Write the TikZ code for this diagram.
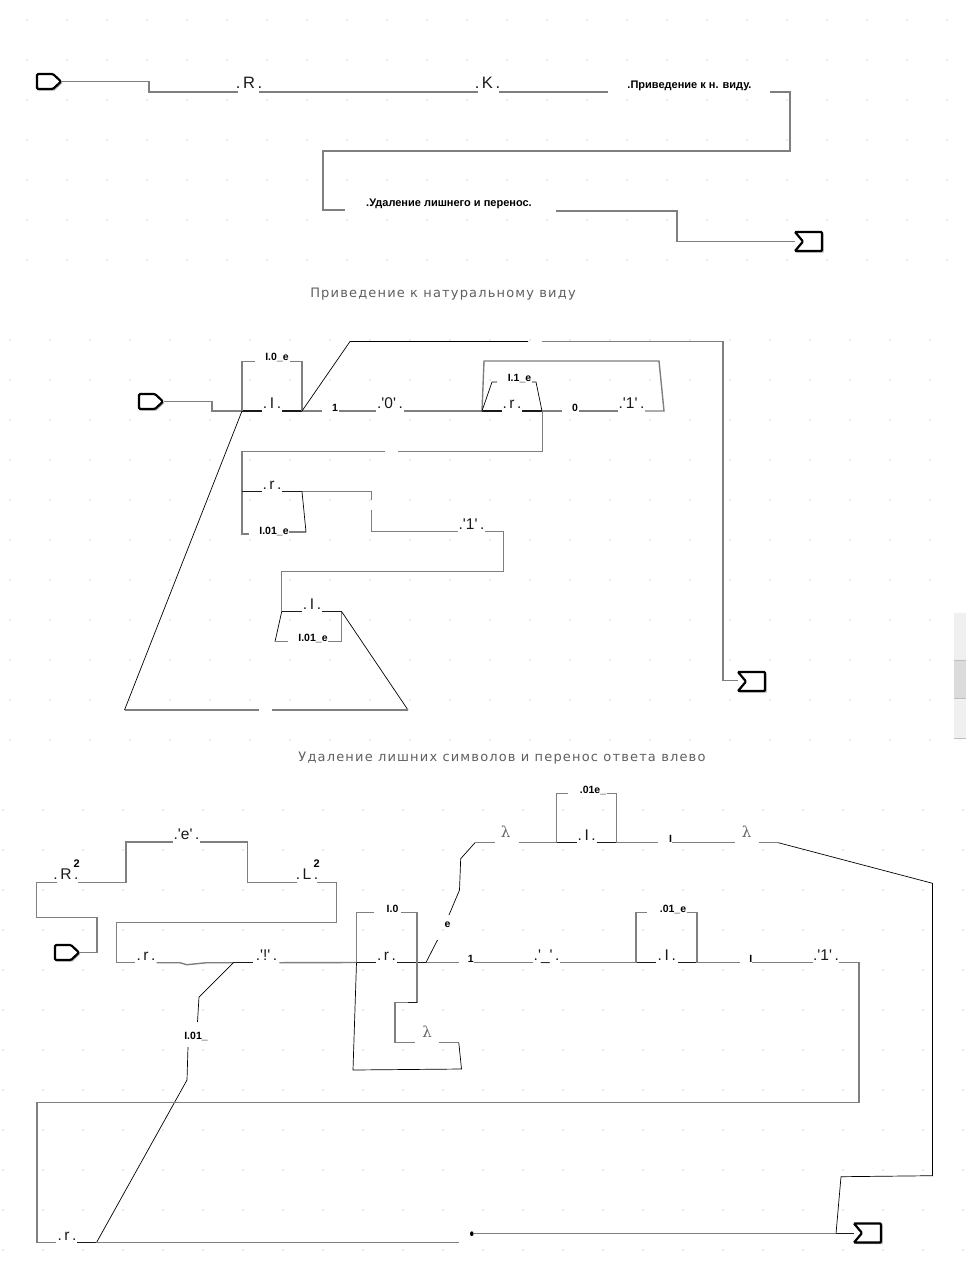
\documentclass[tikz,border=0pt]{standalone}
\usepackage{fontspec}
\setmainfont{Liberation Sans}
\newfontfamily\titlefont[LetterSpace=9]{DejaVu Sans}
\newfontfamily\lamfont{DejaVu Serif}
\definecolor{wirec}{HTML}{7F7F7F}
\definecolor{darkc}{HTML}{1A1A1A}
\definecolor{dotc}{HTML}{A8A8A8}
\definecolor{titlec}{HTML}{606060}
\newcommand{\q}{\textquotesingle}
\newcommand{\dd}[1]{.\hspace{2.6pt}#1\hspace{2.6pt}.}
\tikzset{
 wire/.style={draw=wirec, line width=1.4},
 dk/.style={draw=darkc, line width=1.5},
 thinl/.style={draw=black, line width=0.7},
 big/.style={font=\fontsize{15.5}{16}\selectfont, text=darkc, inner sep=0, anchor=base},
 bigt/.style={font=\fontsize{16.5}{17}\selectfont, text=darkc, inner sep=0, anchor=base},
 sm/.style={font=\bfseries\fontsize{10.5}{11}\selectfont, inner sep=0, anchor=base},
 smt/.style={font=\bfseries\fontsize{11}{11}\selectfont, inner sep=0, anchor=base},
 sup/.style={font=\bfseries\fontsize{11}{10}\selectfont, inner sep=0, anchor=base},
 lam/.style={font=\lamfont\fontsize{15}{15}\selectfont, text=black!60, inner sep=0, anchor=base},
 ttl/.style={font=\titlefont\fontsize{13}{13}\selectfont, text=titlec, inner sep=0, anchor=base},
 startsym/.pic={
   \fill[black!30] (1.5,-6) -- (17.5,-6) -- (25.5,1.5) -- (17.5,9) -- (1.5,9) -- cycle;
   \draw[line width=2.2, fill=white, rounded corners=1.2] (0,-7.5) -- (16,-7.5) -- (24,0) -- (16,7.5) -- (0,7.5) -- cycle;
 },
 endsym/.pic={
   \fill[black!30] (1.5,-8) -- (28.5,-8) -- (28.5,11) -- (1.5,11) -- (9.5,1.5) -- cycle;
   \draw[line width=2.2, fill=white, rounded corners=1] (0,-9.5) -- (27,-9.5) -- (27,9.5) -- (0,9.5) -- (8,0) -- cycle;
 },
}
\begin{document}
\begin{tikzpicture}[x=1pt,y=-1pt]
\useasboundingbox (0,0) rectangle (966,1277);
\fill[white] (0,0) rectangle (966,1277);
% grid dots
\foreach \gx in {27,67,...,947}{\foreach \gy in {20,60,...,260}{\fill[dotc] (\gx,\gy) circle (0.6);}}
\foreach \gx in {10,50,...,950}{\foreach \gy in {340,380,...,740}{\fill[dotc] (\gx,\gy) circle (0.6);}}
\foreach \gx in {3,43,...,963}{\foreach \gy in {810,850,...,1250}{\fill[dotc] (\gx,\gy) circle (0.6);}}
% scrollbar remnant
\fill[black!6] (954,613) rectangle (966,660);
\fill[black!14] (954,660) rectangle (966,698);
\fill[black!6] (954,698) rectangle (966,738);
\draw[black!25, line width=0.6] (954,660) -- (966,660) (954,698) -- (966,698) (954,738) -- (966,738);

% ================= TOP =================
\pic at (37,81.5) {startsym};
\coordinate (t0) at (61,81.5);
\node[bigt] (tR) at (249,88) {\dd{R}};
\node[bigt] (tK) at (487.5,88) {\dd{K}};
\node[smt] (tP) at (689.5,88) {.Приведение к н. виду.};
\node[smt] (tU) at (449,206) {.Удаление лишнего и перенос.};
\coordinate (tE) at (795,241.5);
\draw[wire] (t0) -- (149,81.5) -- (149,92) -- (238,92);
\draw[wire] (259,92) -- (478,92);
\draw[wire] (499,92) -- (608,92);
\draw[wire] (770,92) -- (790,92) -- (790,151) -- (323,151) -- (323,210) -- (345,210);
\draw[wire] (556,211) -- (677,211) -- (677,241.5) -- (tE);
\pic at (795,241.5) {endsym};

\node[ttl] (title1) at (443,297) {Приведение к натуральному виду};

% ================= MIDDLE =================
\pic at (139,401.5) {startsym};
\draw[wire] (164,401.5) -- (212,401.5) -- (212,411) -- (242,411);
\draw[dk] (242,411) -- (262,411);
\node[big] (mI1) at (272,408) {\dd{I}};
\draw[dk] (282,411) -- (302,411);
\draw[wire] (302,411) -- (322,411);
\node[sm] (m1) at (335,411) {1};
\draw[wire] (339,411) -- (376,411);
\node[big] (m0) at (390,408) {.\q0\q\hspace{2.6pt}.};
\draw[wire] (404,411) -- (482,411);
% loop over I
\draw[wire] (242,411) -- (242,361.5) -- (255,361.5);
\node[sm] (mI0e) at (277,360.5) {I.0\_e};
\draw[wire] (290,361.5) -- (302,361.5) -- (302,411);
% long return
\draw[thinl] (302,411) -- (350,341.5) -- (528,341.5);
\draw[wire] (541.7,341.5) -- (723,341.5) -- (723,680.5) -- (738,680.5);
\pic at (738,681.5) {endsym};
% r block
\draw[wire] (482,411) -- (484,361) -- (659,361) -- (664,411) -- (645,411);
\draw[thinl] (482,411) -- (492,382) -- (497,382);
\node[sm] (mI1e) at (519.5,381) {I.1\_e};
\draw[thinl] (532,382) -- (536,382) -- (542,411);
\draw[dk] (482,411) -- (502,411);
\node[big] (mr1) at (512,408.5) {\dd{r}};
\draw[dk] (522,411) -- (542,411);
\draw[wire] (542,411) -- (562,411);
\node[sm] (mzero) at (575,411) {0};
\draw[wire] (579,411) -- (618,411);
\node[big] (m1a) at (631.5,408.5) {.\q1\q\hspace{2.6pt}.};
% down to second r
\draw[wire] (542.5,411) -- (542.5,451.5) -- (398,451.5);
\draw[wire] (385,451.5) -- (242,451.5) -- (242,491.5);
\draw[dk] (242,491.5) -- (262,491.5);
\node[big] (mr2) at (272,489) {\dd{r}};
\draw[dk] (282,491.5) -- (302,491.5);
\draw[wire] (302,491.5) -- (371.5,491.5) -- (371.5,500);
\draw[wire] (371.5,510) -- (371.5,531.7) -- (458,531.7);
\node[big] (m1b) at (471.5,529.5) {.\q1\q\hspace{2.6pt}.};
\draw[wire] (485,531.7) -- (503.3,531.7) -- (503.3,571.7) -- (281.7,571.7) -- (281.7,611.7);
\draw[wire] (242,491.5) -- (242,534) -- (249,534);
\node[sm] (mI01a) at (274,534) {I.01\_e};
\draw[wire] (289,532) -- (306,532);
\draw[thinl] (306,532) -- (302,491.5);
% I block
\draw[dk] (281.7,611.7) -- (301.7,611.7);
\node[big] (mI2) at (312,609.5) {\dd{I}};
\draw[dk] (322.3,611.7) -- (341.7,611.7);
\draw[thinl] (281.7,611.7) -- (275,641.7);
\draw[wire] (275,641.7) -- (287.7,641.7);
\node[sm] (mI01b) at (313,641.5) {I.01\_e};
\draw[wire] (327.7,641.7) -- (341.7,641.7) -- (341.7,611.7);
\draw[thinl] (341.7,611.7) -- (408,710);
\draw[wire] (408,710) -- (272,710);
\draw[wire] (258.5,710) -- (124.5,710);
\draw[thinl] (124.5,710) -- (242,411);

\node[ttl] (title2) at (502,761) {Удаление лишних символов и перенос ответа влево};

% ================= BOTTOM =================
\pic at (55,952.5) {startsym};
\draw[wire] (79,952.5) -- (97,952.5) -- (97,917.3) -- (36.7,917.3) -- (36.7,882.7) -- (56.7,882.7);
\node[big] (bR) at (66,879.5) {\dd{R}};
\node[sup] (bR2) at (76.7,867.3) {2};
\draw[wire] (78.3,882.7) -- (126,882.7) -- (126,842) -- (173.3,842);
\node[big] (be) at (186.5,839.5) {.\q e\q\hspace{2.6pt}.};
\draw[wire] (200,842) -- (247.7,842) -- (247.7,882.7) -- (296.7,882.7);
\node[big] (bL) at (307,879.5) {\dd{L}};
\node[sup] (bL2) at (316.7,867.3) {2};
\draw[wire] (317.3,882.7) -- (336.7,882.7) -- (336.7,922.7) -- (116.7,922.7) -- (116.7,962.7) -- (135,962.7);
\node[big] (br1) at (146,960) {\dd{r}};
\draw[wire] (156.7,962.7) -- (180,962.7) -- (186.7,964.7) -- (206.7,962.7) -- (233.3,962.7);
\draw[dk] (233.3,962.7) -- (253.3,962.7);
\node[big] (bex) at (266.5,960) {.\q!\q\hspace{2.6pt}.};
\draw[wire] (279.3,962.7) -- (356.5,962.5);
% diagonal to bottom r
\draw[thinl] (233.3,962.7) -- (199,997) -- (197.5,1022);
\node[sm] (bI01) at (196,1039) {I.01\_};
\draw[thinl] (188,1047) -- (187,1080) -- (96.4,1242.7);
% r with I.0 loop
\draw[dk] (356.5,962.5) -- (376.2,962.5);
\node[big] (br2) at (386.5,960) {\dd{r}};
\draw[dk] (396.8,962.5) -- (426,962.5);
\draw[wire] (426,962.5) -- (458.8,962.5);
\node[sm] (b1) at (470.9,962.3) {1};
\draw[wire] (474.3,962.5) -- (532.8,962.5);
\node[big] (bus) at (546.6,960) {.\q\_\q\hspace{2.6pt}.};
\draw[wire] (560.4,962.5) -- (636.1,962.5);
\draw[dk] (636.1,962.5) -- (656,962.5);
\node[big] (bI1) at (666.8,960) {\dd{I}};
\draw[dk] (677.5,962.5) -- (697.1,962.5);
\draw[wire] (697.1,962.5) -- (739.5,962.5);
\node[sm] (bIm) at (750.8,962.3) {I};
\draw[wire] (752.2,962.5) -- (812.5,962.5);
\node[big] (b1q) at (826,960) {.\q1\q\hspace{2.6pt}.};
\draw[wire] (839.3,962.5) -- (859,962.5) -- (859,1102.7) -- (37,1102.7) -- (37,1242.7) -- (56,1242.7);
\node[big] (br3) at (67,1240) {\dd{r}};
\draw[dk] (77.4,1242.7) -- (96.4,1242.7);
\draw[wire] (96.4,1242.7) -- (459,1242.7);
% I.0 loop
\draw[wire] (356.5,962.5) -- (356.5,912.7) -- (373.7,912.7);
\node[sm] (bI0) at (392.5,912) {I.0};
\draw[wire] (401.3,912.7) -- (416.8,912.7) -- (416.8,1002.3) -- (395,1002.3) -- (395,1042.7) -- (415,1042.7);
\draw[dk] (407.8,1002.3) -- (416.8,1002.3);
\node[lam] (blam3) at (427,1037) {λ};
\draw[wire] (439,1042.7) -- (458.8,1042.7);
\draw[thinl] (458.8,1042.7) -- (461.5,1069) -- (353,1070) -- (356.5,962.5);
% e connector
\draw[thinl] (426,962.5) -- (437.5,940);
\node[sm] (be2) at (447.6,927) {e};
\draw[thinl] (449,915) -- (459.5,890) -- (460.7,858.7) -- (475,842.7);
\draw[wire] (475,842.7) -- (495,842.7);
\node[lam] (blam1) at (505.5,837) {λ};
\draw[wire] (519,842.7) -- (556.7,842.7);
\draw[dk] (556.7,842.7) -- (576.7,842.7);
\node[big] (bI2) at (586.7,840) {\dd{I}};
\draw[dk] (596.7,842.7) -- (616.7,842.7);
\draw[wire] (616.7,842.7) -- (658.3,842.7);
\draw[wire] (556.7,842.7) -- (556.7,793.3) -- (567.7,793.3);
\node[sm] (b01e) at (593,793) {.01e\_};
\draw[wire] (606.7,793.3) -- (616.7,793.3) -- (616.7,842.7);
\node[sm] (bIa) at (670.7,842.3) {I};
\draw[wire] (672.3,842.7) -- (735,842.7);
\node[lam] (blam2) at (746.7,837) {λ};
\draw[wire] (759,842.7) -- (778.3,842.7);
\draw[thinl] (778.3,842.7) -- (932.5,883.3) -- (932.5,1175.7) -- (841,1176.7) -- (836,1233.7);
% ".01_e" loop on I
\draw[wire] (636.1,962.5) -- (636.1,912.7) -- (646.5,912.7);
\node[sm] (b01_e) at (673,912) {.01\_e};
\draw[wire] (687,912.7) -- (697.1,912.7) -- (697.1,962.5);
% final
\fill[black] (471.8,1233.7) ellipse (1.8 and 2.4);
\draw[wire] (473.5,1233.7) -- (836,1233.7);
\draw[dk] (836,1233.7) -- (854,1233.7);
\pic at (854,1233) {endsym};
\end{tikzpicture}
\end{document}
